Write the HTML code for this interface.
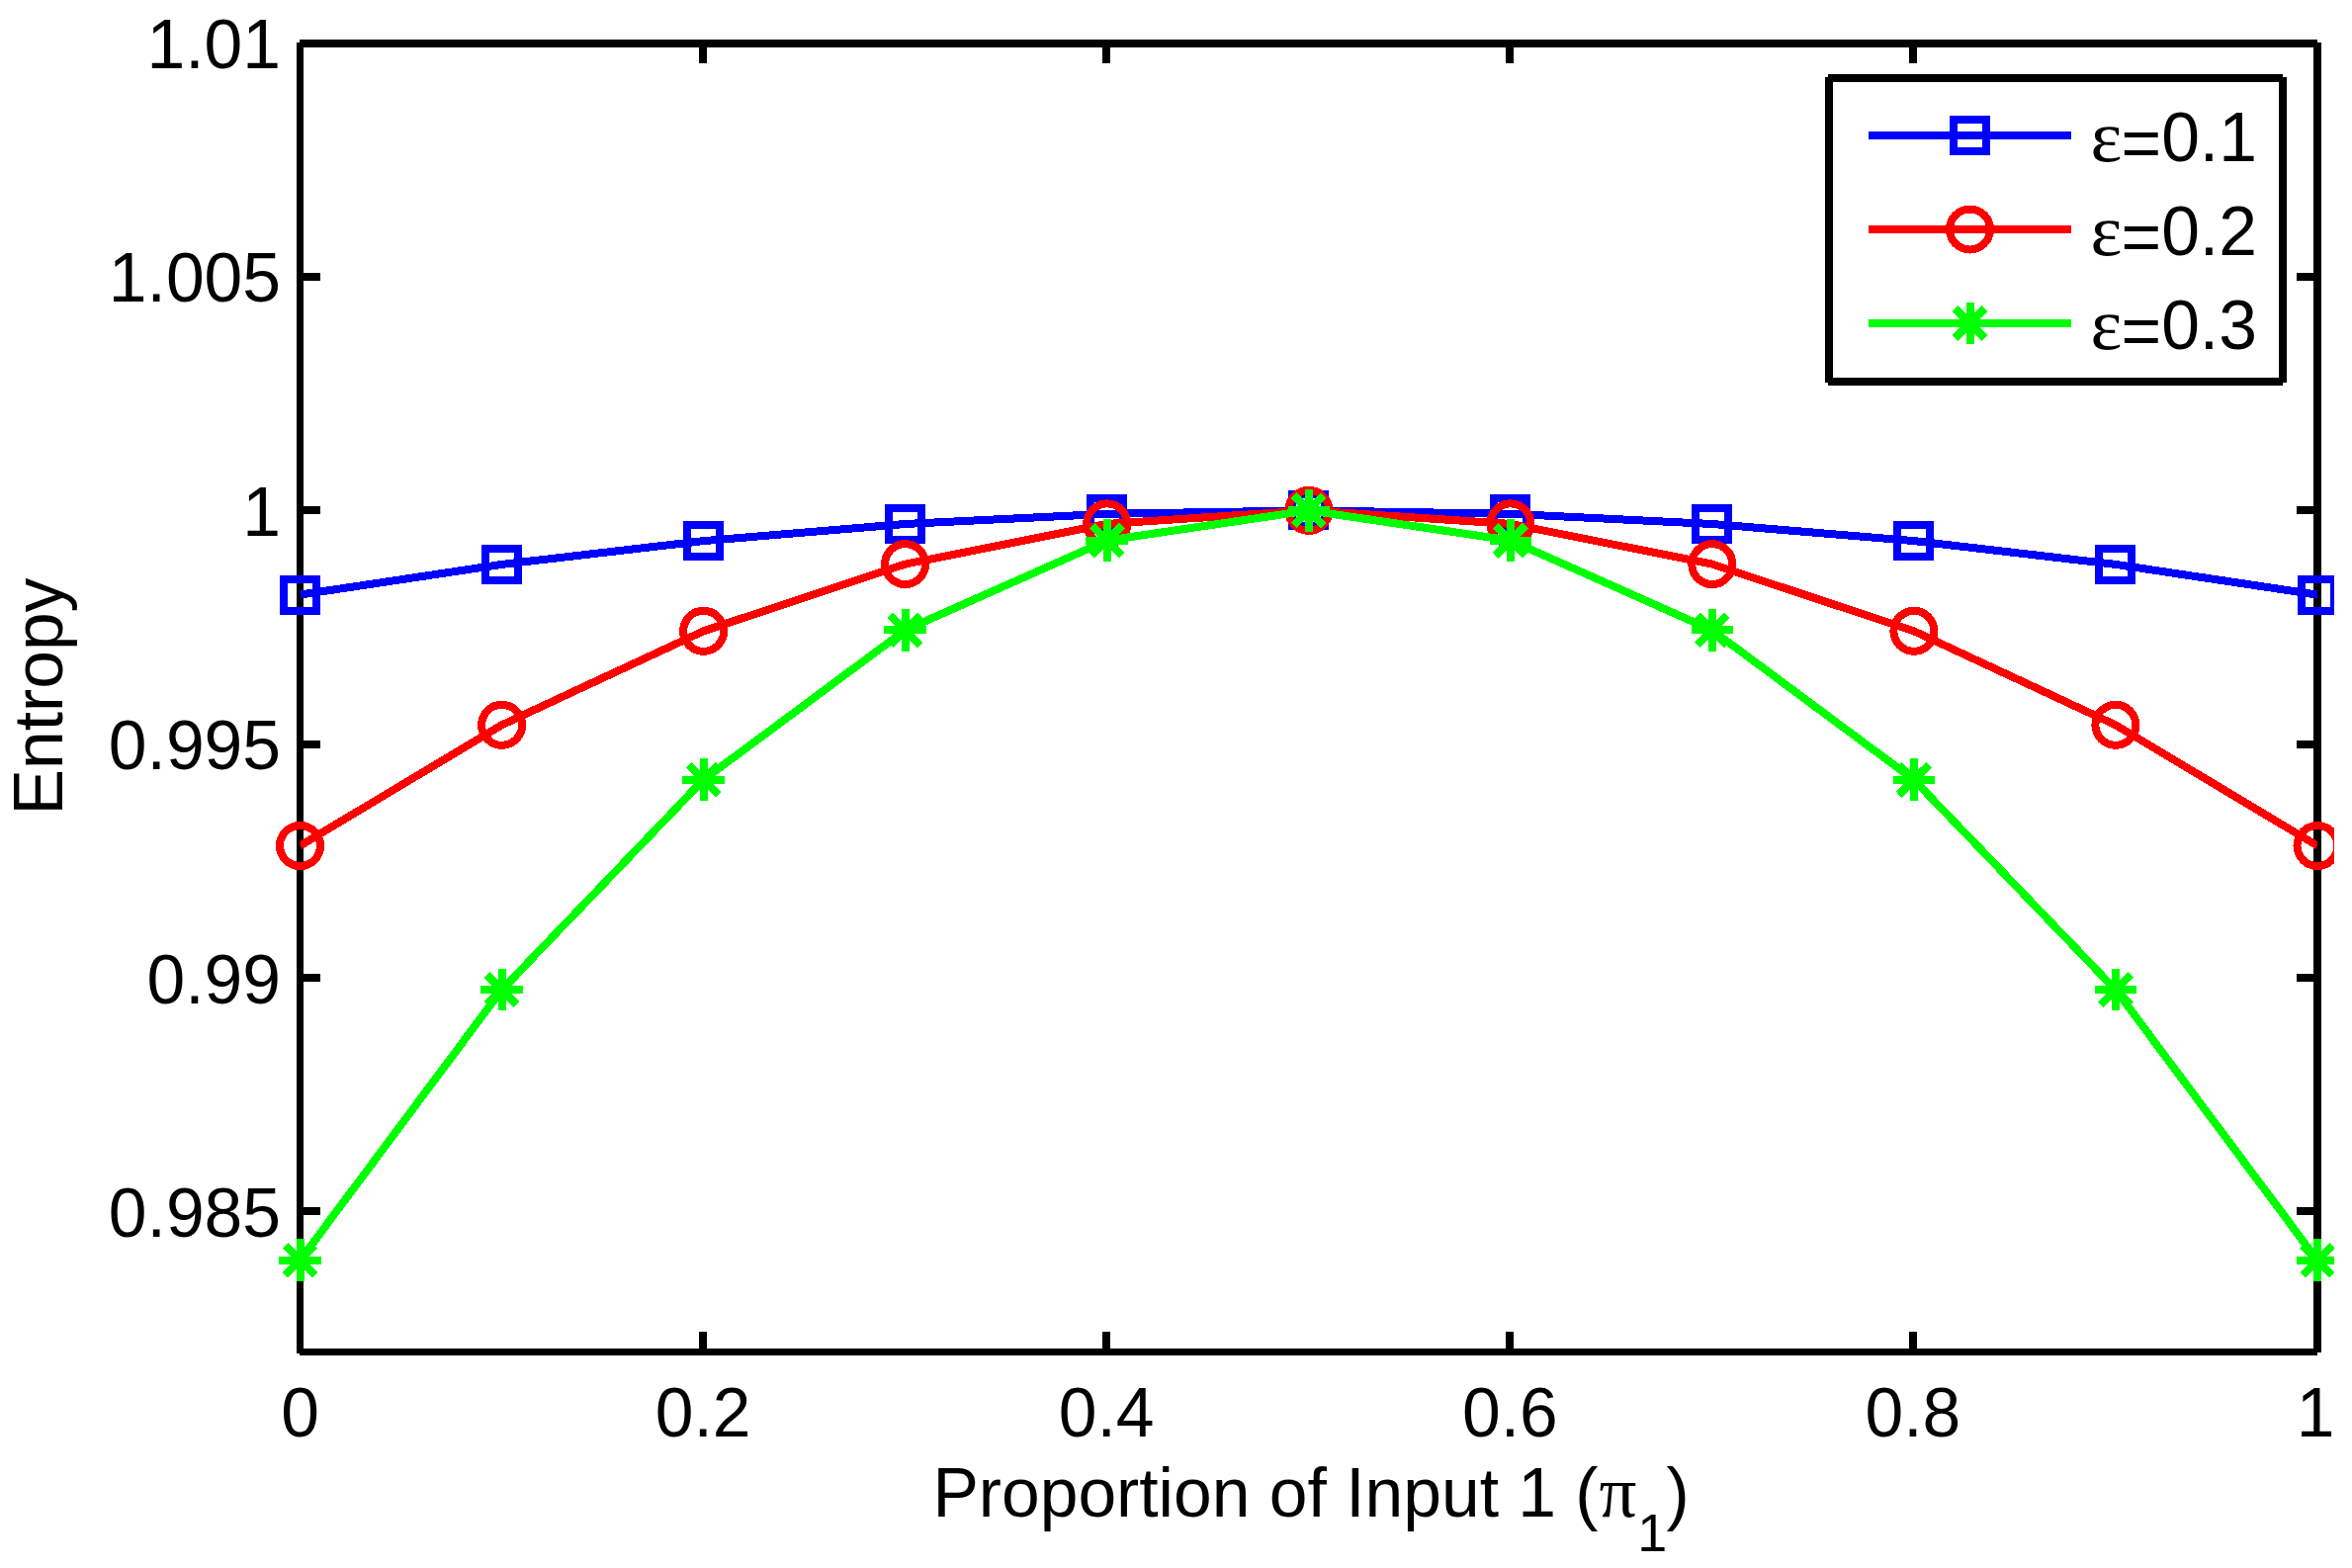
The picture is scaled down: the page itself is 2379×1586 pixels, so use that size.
<!DOCTYPE html>
<html lang="en"><head><meta charset="utf-8"><title>Entropy vs Proportion of Input 1</title>
<style>html,body{margin:0;padding:0;background:#fff;overflow:hidden}svg{display:block}text{font-family:"Liberation Sans",sans-serif;font-size:69.6px;fill:#000}.sym{font-family:"Liberation Serif",serif}</style></head><body>
<svg width="2379" height="1586" viewBox="0 0 2379 1586">
<defs><clipPath id="ax"><rect x="303.5" y="44.0" width="2040.5" height="1323.5"/></clipPath>
<clipPath id="fig"><rect x="0" y="0" width="2361" height="1586"/></clipPath></defs>
<rect width="2379" height="1586" fill="#fff"/>
<g fill="#000" shape-rendering="crispEdges">
<rect x="300" y="43" width="7" height="1325.5"/>
<rect x="2340" y="43" width="8" height="1325"/>
<rect x="303" y="40" width="2041" height="8"/>
<rect x="303" y="1364" width="2041" height="7"/>
<rect x="707" y="1347.0" width="8" height="20.5"/>
<rect x="707" y="44.0" width="8" height="20.0"/>
<rect x="1115" y="1347.0" width="8" height="20.5"/>
<rect x="1115" y="44.0" width="8" height="20.0"/>
<rect x="1523" y="1347.0" width="8" height="20.5"/>
<rect x="1523" y="44.0" width="8" height="20.0"/>
<rect x="1931" y="1347.0" width="8" height="20.5"/>
<rect x="1931" y="44.0" width="8" height="20.0"/>
<rect x="303.5" y="1221" width="20.5" height="8"/>
<rect x="2323.0" y="1221" width="21.0" height="8"/>
<rect x="303.5" y="985" width="20.5" height="8"/>
<rect x="2323.0" y="985" width="21.0" height="8"/>
<rect x="303.5" y="749" width="20.5" height="8"/>
<rect x="2323.0" y="749" width="21.0" height="8"/>
<rect x="303.5" y="512" width="20.5" height="8"/>
<rect x="2323.0" y="512" width="21.0" height="8"/>
<rect x="303.5" y="276" width="20.5" height="8"/>
<rect x="2323.0" y="276" width="21.0" height="8"/>
</g>
<g clip-path="url(#fig)" shape-rendering="crispEdges">
<polyline clip-path="url(#ax)" fill="none" stroke="#00f" stroke-width="8" stroke-linejoin="round" points="303.5,601.6 507.6,570.9 711.6,547.1 915.6,530.0 1119.7,519.8 1323.8,516.4 1527.8,519.8 1731.8,530.0 1935.9,547.1 2139.9,570.9 2344.0,601.6"/>
<rect x="287.0" y="585.6" width="33" height="32" fill="none" stroke="#00f" stroke-width="8"/><rect x="491.1" y="554.9" width="33" height="32" fill="none" stroke="#00f" stroke-width="8"/><rect x="695.1" y="531.1" width="33" height="32" fill="none" stroke="#00f" stroke-width="8"/><rect x="899.1" y="514.0" width="33" height="32" fill="none" stroke="#00f" stroke-width="8"/><rect x="1103.2" y="503.8" width="33" height="32" fill="none" stroke="#00f" stroke-width="8"/><rect x="1307.2" y="500.4" width="33" height="32" fill="none" stroke="#00f" stroke-width="8"/><rect x="1511.3" y="503.8" width="33" height="32" fill="none" stroke="#00f" stroke-width="8"/><rect x="1715.3" y="514.0" width="33" height="32" fill="none" stroke="#00f" stroke-width="8"/><rect x="1919.4" y="531.1" width="33" height="32" fill="none" stroke="#00f" stroke-width="8"/><rect x="2123.4" y="554.9" width="33" height="32" fill="none" stroke="#00f" stroke-width="8"/><rect x="2327.5" y="585.6" width="33" height="32" fill="none" stroke="#00f" stroke-width="8"/>
<polyline clip-path="url(#ax)" fill="none" stroke="#f00" stroke-width="8" stroke-linejoin="round" points="303.5,855.5 507.6,733.3 711.6,638.3 915.6,570.6 1119.7,529.9 1323.8,516.4 1527.8,529.9 1731.8,570.6 1935.9,638.3 2139.9,733.3 2344.0,855.5"/>
<circle cx="303.5" cy="855.5" r="20.5" fill="none" stroke="#f00" stroke-width="8"/><circle cx="507.6" cy="733.3" r="20.5" fill="none" stroke="#f00" stroke-width="8"/><circle cx="711.6" cy="638.3" r="20.5" fill="none" stroke="#f00" stroke-width="8"/><circle cx="915.6" cy="570.6" r="20.5" fill="none" stroke="#f00" stroke-width="8"/><circle cx="1119.7" cy="529.9" r="20.5" fill="none" stroke="#f00" stroke-width="8"/><circle cx="1323.8" cy="516.4" r="20.5" fill="none" stroke="#f00" stroke-width="8"/><circle cx="1527.8" cy="529.9" r="20.5" fill="none" stroke="#f00" stroke-width="8"/><circle cx="1731.8" cy="570.6" r="20.5" fill="none" stroke="#f00" stroke-width="8"/><circle cx="1935.9" cy="638.3" r="20.5" fill="none" stroke="#f00" stroke-width="8"/><circle cx="2139.9" cy="733.3" r="20.5" fill="none" stroke="#f00" stroke-width="8"/><circle cx="2344.0" cy="855.5" r="20.5" fill="none" stroke="#f00" stroke-width="8"/>
<polyline clip-path="url(#ax)" fill="none" stroke="#0f0" stroke-width="8" stroke-linejoin="round" points="303.5,1274.7 507.6,1001.1 711.6,788.7 915.6,637.4 1119.7,546.6 1323.8,516.4 1527.8,546.6 1731.8,637.4 1935.9,788.7 2139.9,1001.1 2344.0,1274.7"/>
<path d="M282.2 1274.7H324.8M303.5 1253.4V1296.0M288.4 1259.7L318.6 1289.8M288.4 1289.8L318.6 1259.7" fill="none" stroke="#0f0" stroke-width="8"/><path d="M486.2 1001.1H528.9M507.6 979.8V1022.4M492.5 986.0L522.6 1016.1M492.5 1016.1L522.6 986.0" fill="none" stroke="#0f0" stroke-width="8"/><path d="M690.3 788.7H732.9M711.6 767.4V810.0M696.5 773.7L726.7 803.8M696.5 803.8L726.7 773.7" fill="none" stroke="#0f0" stroke-width="8"/><path d="M894.4 637.4H936.9M915.6 616.1V658.7M900.6 622.3L930.7 652.4M900.6 652.4L930.7 622.3" fill="none" stroke="#0f0" stroke-width="8"/><path d="M1098.4 546.6H1141.0M1119.7 525.3V567.9M1104.6 531.6L1134.8 561.7M1104.6 561.7L1134.8 531.6" fill="none" stroke="#0f0" stroke-width="8"/><path d="M1302.5 516.4H1345.0M1323.8 495.1V537.7M1308.7 501.3L1338.8 531.5M1308.7 531.5L1338.8 501.3" fill="none" stroke="#0f0" stroke-width="8"/><path d="M1506.5 546.6H1549.1M1527.8 525.3V567.9M1512.7 531.6L1542.9 561.7M1512.7 561.7L1542.9 531.6" fill="none" stroke="#0f0" stroke-width="8"/><path d="M1710.5 637.4H1753.1M1731.8 616.1V658.7M1716.8 622.3L1746.9 652.4M1716.8 652.4L1746.9 622.3" fill="none" stroke="#0f0" stroke-width="8"/><path d="M1914.6 788.7H1957.2M1935.9 767.4V810.0M1920.8 773.7L1951.0 803.8M1920.8 803.8L1951.0 773.7" fill="none" stroke="#0f0" stroke-width="8"/><path d="M2118.6 1001.1H2161.2M2139.9 979.8V1022.4M2124.9 986.0L2155.0 1016.1M2124.9 1016.1L2155.0 986.0" fill="none" stroke="#0f0" stroke-width="8"/><path d="M2322.7 1274.7H2365.3M2344.0 1253.4V1296.0M2328.9 1259.7L2359.1 1289.8M2328.9 1289.8L2359.1 1259.7" fill="none" stroke="#0f0" stroke-width="8"/>
</g>
<rect x="1850" y="79" width="459" height="307" fill="#fff"/>
<g fill="#000" shape-rendering="crispEdges"><rect x="1849" y="75" width="460" height="8"/><rect x="1849" y="382" width="460" height="8"/><rect x="1846" y="78" width="8" height="308.5"/><rect x="2305" y="78" width="8" height="308.5"/></g>
<g shape-rendering="crispEdges"><line x1="1890" y1="137" x2="2095" y2="137" stroke="#00f" stroke-width="8"/>
<rect x="1976.0" y="121.0" width="33" height="32" fill="none" stroke="#00f" stroke-width="8"/></g>
<text class="sym" transform="translate(2114.6 163.4) scale(1.09 1.05)">ε</text><text x="2145.5" y="163"><tspan dy="6">=</tspan><tspan dy="-6">0.1</tspan></text>
<g shape-rendering="crispEdges"><line x1="1890" y1="232" x2="2095" y2="232" stroke="#f00" stroke-width="8"/>
<circle cx="1992.5" cy="232.0" r="20.5" fill="none" stroke="#f00" stroke-width="8"/></g>
<text class="sym" transform="translate(2114.6 258.4) scale(1.09 1.05)">ε</text><text x="2145.5" y="258"><tspan dy="6">=</tspan><tspan dy="-6">0.2</tspan></text>
<g shape-rendering="crispEdges"><line x1="1890" y1="327" x2="2095" y2="327" stroke="#0f0" stroke-width="8"/>
<path d="M1971.2 327.0H2013.8M1992.5 305.7V348.3M1977.4 311.9L2007.6 342.1M1977.4 342.1L2007.6 311.9" fill="none" stroke="#0f0" stroke-width="8"/></g>
<text class="sym" transform="translate(2114.6 353.4) scale(1.09 1.05)">ε</text><text x="2145.5" y="353"><tspan dy="6">=</tspan><tspan dy="-6">0.3</tspan></text>
<text x="303.5" y="1452.7" text-anchor="middle">0</text>
<text x="711.1" y="1452.7" text-anchor="middle">0.2</text>
<text x="1119.2" y="1452.7" text-anchor="middle">0.4</text>
<text x="1527.3" y="1452.7" text-anchor="middle">0.6</text>
<text x="1934.9" y="1452.7" text-anchor="middle">0.8</text>
<text x="2342.2" y="1452.7" text-anchor="middle">1</text>
<text x="284" y="1251.2" text-anchor="end">0.985</text>
<text x="284" y="1015.0" text-anchor="end">0.99</text>
<text x="284" y="778.0" text-anchor="end">0.995</text>
<text x="284" y="542.0" text-anchor="end">1</text>
<text x="284" y="305.0" text-anchor="end">1.005</text>
<text x="284" y="69.0" text-anchor="end">1.01</text>
<text y="1534"><tspan x="943.4">Proportion of Input 1 (</tspan><tspan class="sym" x="1617.5" font-size="75">π</tspan><tspan x="1656.2" dy="34.5" font-size="54">1</tspan><tspan x="1685.5" dy="-34.5">)</tspan></text>
<text transform="translate(63.3 704.5) rotate(-90)" text-anchor="middle">Entropy</text>
</svg></body></html>
